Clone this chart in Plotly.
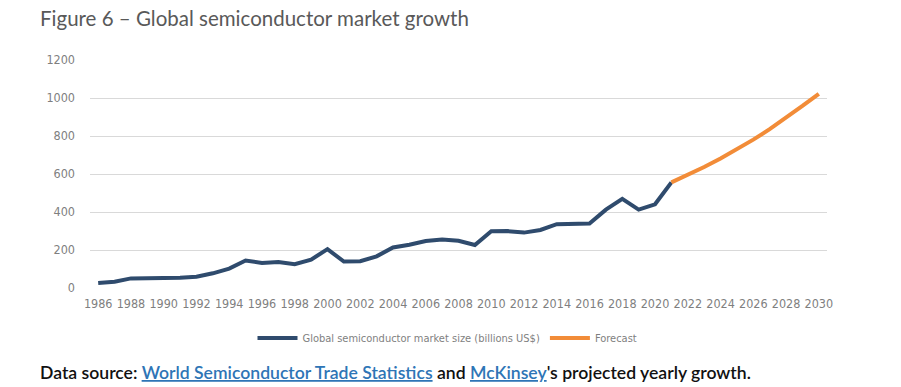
import plotly.graph_objects as go

years_hist = list(range(1986, 2022))
market_size = [26, 33, 50.5, 50.5, 50.5, 54.6, 59.6, 77.3, 101.9, 144.4,
               132, 137.2, 125.6, 149.4, 204.4, 139, 140.7, 166.4, 213, 227.5,
               247.7, 255.6, 248.6, 226.3, 298.3, 299.5, 291.6, 305.6, 335.8, 335.2,
               338.9, 412.2, 468.8, 412.3, 440.4, 555.9]
years_fc = list(range(2021, 2031))
forecast = [555.9, 595, 637, 682, 730, 781, 836, 895, 958, 1022]
x_ticks = list(range(1986, 2031, 2))
y_ticks = [0, 200, 400, 600, 800, 1000, 1200]

COND = "DejaVu Sans Condensed, Liberation Sans Narrow, sans-serif"
TICK_FONT = dict(family=COND, size=12.5, color="#7f7f7f")
LEG_FONT = dict(family=COND, size=11, color="#7f7f7f")

fig = go.Figure()
fig.add_trace(go.Scatter(x=years_hist, y=market_size, mode="lines",
                         name="Global semiconductor market size (billions US$)",
                         line=dict(color="#2f4b6d", width=4)))
fig.add_trace(go.Scatter(x=years_fc, y=forecast, mode="lines", name="Forecast",
                         line=dict(color="#f28c38", width=4)))

fig.update_layout(
    width=901, height=387,
    margin=dict(l=90, r=74, t=60, b=99),
    paper_bgcolor="white", plot_bgcolor="white",
    showlegend=True,
    legend=dict(orientation="h", x=0.5 - 11/737, xanchor="center", xref="paper",
                yref="container", y=1 - 338/387, yanchor="middle",
                font=LEG_FONT, itemwidth=40, tracegroupgap=0),
    xaxis=dict(range=[1985.5, 2030.5], tickvals=x_ticks, ticktext=[str(v) for v in x_ticks],
               showgrid=False, zeroline=False, showline=False, tickfont=TICK_FONT, ticks="",
               ticklabelstandoff=6),
    yaxis=dict(range=[0, 1200], tickvals=y_ticks, showgrid=True, gridcolor="#d9d9d9",
               gridwidth=1, zeroline=False, showline=False, tickfont=TICK_FONT, ticks="",
               ticklabelstandoff=14),
    annotations=[
        dict(text="Figure 6 \u2013 Global semiconductor market growth", xref="paper", yref="paper",
             x=-52/737, y=1 + 42/228, xanchor="left", yanchor="middle", showarrow=False,
             font=dict(family="Lato, Open Sans, sans-serif", size=20.5, color="#595959")),
        dict(text="Data source: <span style='color:#2e75b6'><u>World Semiconductor Trade Statistics</u></span>"
                  " and <span style='color:#2e75b6'><u>McKinsey</u></span>'s projected yearly growth.",
             xref="paper", yref="paper", x=-52/737, y=-84/228, xanchor="left", yanchor="middle",
             showarrow=False,
             font=dict(family="Lato, Open Sans, sans-serif", size=17.6, color="#111111", weight=600)),
    ],
)

fig.write_html("out.html", config={"displayModeBar": False},
               post_script="document.body.style.margin='0';")
